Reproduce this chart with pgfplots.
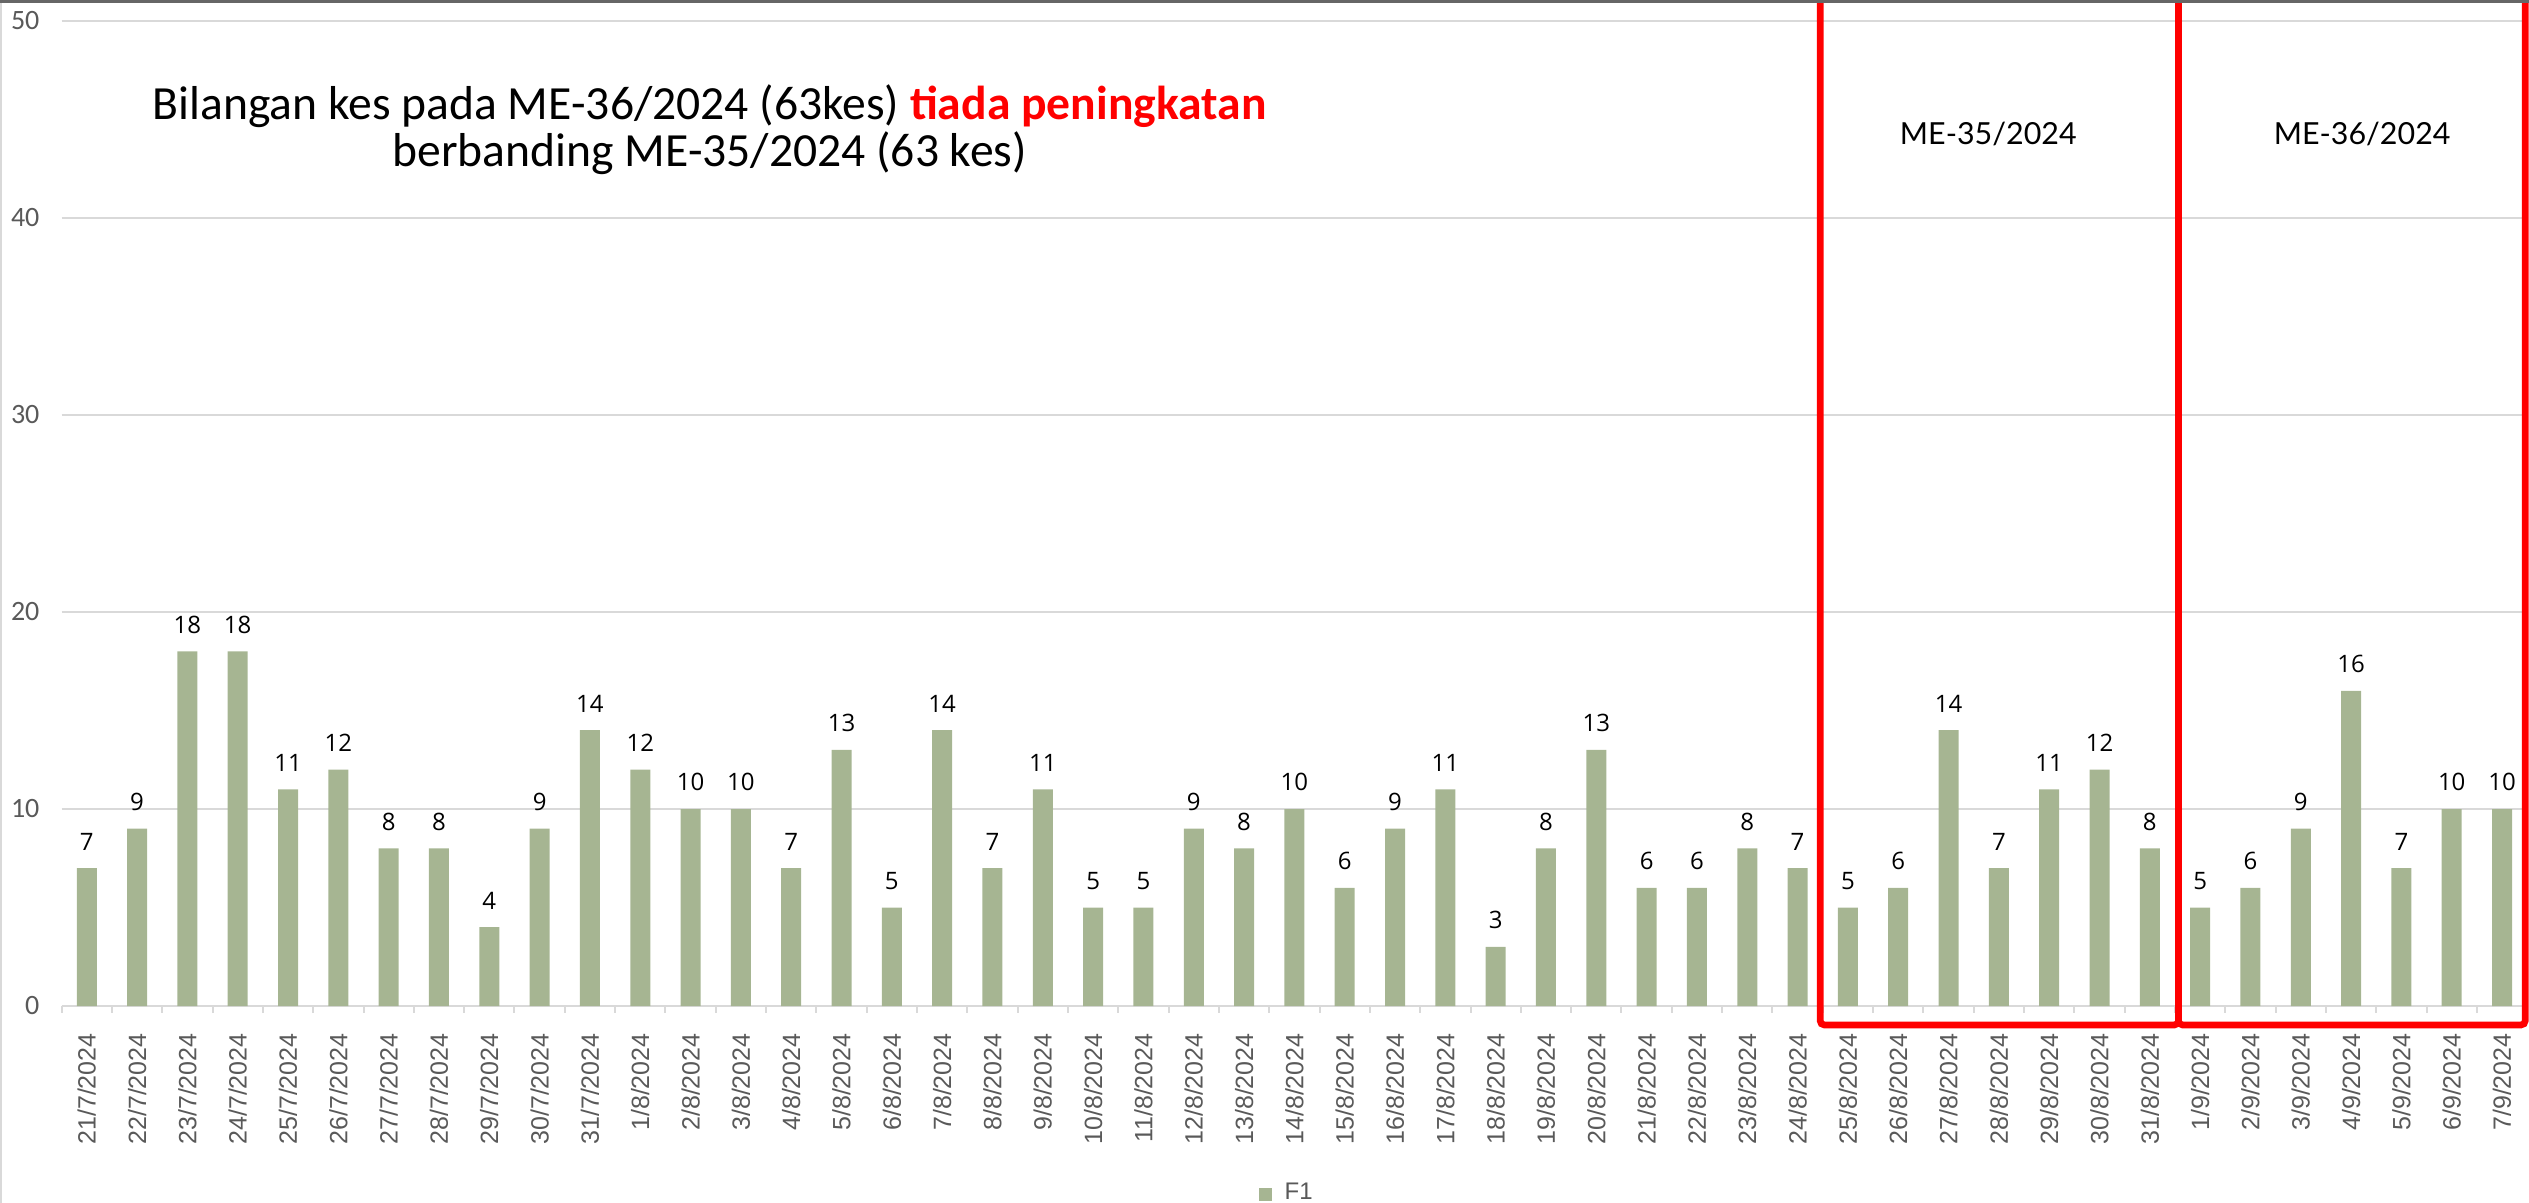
\documentclass[border=0pt]{standalone}
\usepackage{pgfplots}
\pgfplotsset{compat=1.18}
\usepackage{fontspec}
\setmainfont{Carlito}
\newfontfamily\arialf{Liberation Sans}
\newfontfamily\barf{Open Sans}
\newfontfamily\mef{Lato}
\definecolor{barc}{RGB}{166,181,146}
\definecolor{tickgray}{RGB}{89,89,89}
\definecolor{gridc}{RGB}{217,217,217}
\definecolor{boxred}{RGB}{255,0,0}
\begin{document}
\begin{tikzpicture}
\begin{axis}[
  at={(15.4bp,49.25bp)}, anchor=south west,
  scale only axis, width=616.4bp, height=246.25bp,
  xmin=-0.5, xmax=48.5, ymin=0, ymax=50,
  enlargelimits=false, clip=false,
  /pgf/number format/assume math mode=true,
  axis y line*=left,
  axis x line*=bottom,
  y axis line style={draw=none},
  x axis line style={-, draw=gridc, line width=0.6bp},
  ybar, bar width=5bp, bar shift=0pt,
  xtick={0,...,48},
  xticklabels={21/7/2024,22/7/2024,23/7/2024,24/7/2024,25/7/2024,26/7/2024,27/7/2024,28/7/2024,29/7/2024,30/7/2024,31/7/2024,1/8/2024,2/8/2024,3/8/2024,4/8/2024,5/8/2024,6/8/2024,7/8/2024,8/8/2024,9/8/2024,10/8/2024,11/8/2024,12/8/2024,13/8/2024,14/8/2024,15/8/2024,16/8/2024,17/8/2024,18/8/2024,19/8/2024,20/8/2024,21/8/2024,22/8/2024,23/8/2024,24/8/2024,25/8/2024,26/8/2024,27/8/2024,28/8/2024,29/8/2024,30/8/2024,31/8/2024,1/9/2024,2/9/2024,3/9/2024,4/9/2024,5/9/2024,6/9/2024,7/9/2024},
  xticklabel style={yshift=-2.4bp, rotate=90, anchor=east, inner sep=0pt, text=tickgray, font=\arialf\fontsize{6.25bp}{7bp}\selectfont},
  major x tick style={draw=none},
  minor xtick={-0.5,0.5,...,48.5},
  minor x tick style={draw=gridc, line width=0.5bp},
  minor tick length=1.75bp,
  tick align=outside,
  ytick={0,10,...,50},
  ymajorgrids,
  major grid style={draw=gridc, line width=0.45bp},
  y tick style={draw=none},
  yticklabel style={anchor=east, inner sep=0pt, xshift=-1.1bp, text=tickgray, font=\fontsize{7bp}{8bp}\selectfont},
  nodes near coords,
  every node near coord/.append style={anchor=south, inner sep=0pt, yshift=4.25bp, text=black, font=\barf\fontsize{6bp}{7bp}\selectfont},
  legend style={at={(axis cs:23.29,-9.57)}, anchor=west, draw=none, fill=none, inner sep=0pt, outer sep=0pt, text=tickgray, font=\arialf\fontsize{6bp}{7bp}\selectfont, nodes={inner sep=0pt}, /tikz/every odd column/.style={column sep=3.25bp}},
  legend image code/.code={\fill[barc] (0bp,-1.625bp) rectangle (3.25bp,1.625bp);},
]
\addplot[fill=barc, draw=none] coordinates {
(0,7) (1,9) (2,18) (3,18) (4,11) (5,12) (6,8) (7,8) (8,4) (9,9) (10,14)
(11,12) (12,10) (13,10) (14,7) (15,13) (16,5) (17,14) (18,7) (19,11) (20,5)
(21,5) (22,9) (23,8) (24,10) (25,6) (26,9) (27,11) (28,3) (29,8) (30,13)
(31,6) (32,6) (33,8) (34,7) (35,5) (36,6) (37,14) (38,7) (39,11) (40,12)
(41,8) (42,5) (43,6) (44,9) (45,16) (46,7) (47,10) (48,10)
};
\addlegendentry{F1}
\node[align=center, font=\fontsize{11.9bp}{11.7bp}\selectfont] at (axis cs:12.38,44.5)
  {Bilangan kes pada ME-36/2024 (63kes) \textcolor{boxred}{\bfseries tiada peningkatan}\\ berbanding ME-35/2024 (63 kes)};
\node[font=\mef\fontsize{7.6bp}{8bp}\selectfont] at (axis cs:37.79,44.26) {ME-35/2024};
\node[font=\mef\fontsize{7.6bp}{8bp}\selectfont] at (axis cs:45.22,44.26) {ME-36/2024};
\coordinate (a1) at (axis cs:34.45,-0.96);
\coordinate (a2) at (axis cs:41.57,53);
\coordinate (b1) at (axis cs:41.57,-0.96);
\coordinate (b2) at (axis cs:48.46,53);
\end{axis}
\draw[boxred, line width=1.675bp, rounded corners=1bp] (a1) rectangle (a2);
\draw[boxred, line width=1.675bp, rounded corners=1bp] (b1) rectangle (b2);
\fill[black!60] (0,300.0bp) rectangle (632.25bp,300.75bp);
\draw[gridc, line width=0.5bp] (0.25bp,0) -- (0.25bp,300bp);
\pgfresetboundingbox
\path[use as bounding box] (0,0) rectangle (632.25bp,300.75bp);
\end{tikzpicture}
\end{document}
